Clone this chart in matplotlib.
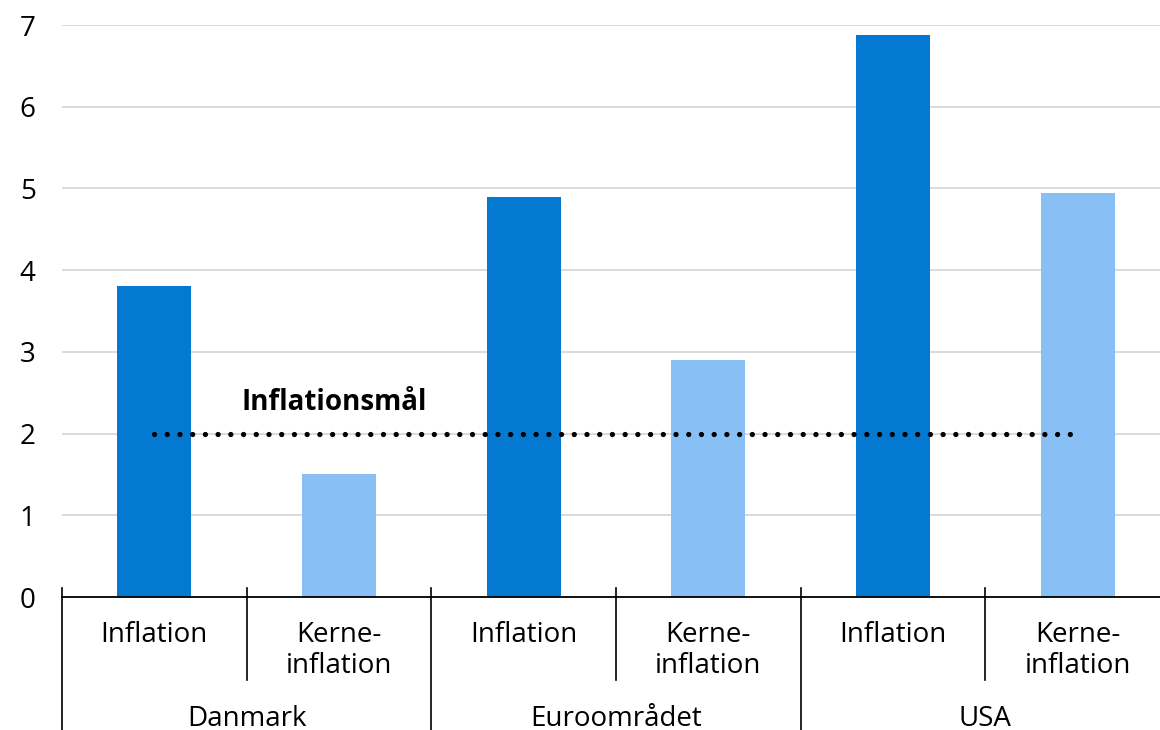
import matplotlib.pyplot as plt
import numpy as np

plt.rcParams['font.family'] = ['Open Sans', 'DejaVu Sans']

groups = ["Danmark", "Euroområdet", "USA"]
measures = ["Inflation", "Kerne-\ninflation"]
values = [3.8, 1.5, 4.9, 2.9, 6.88, 4.95]
target = 2
target_label = "Inflationsmål"

dark_blue = "#0379d1"
light_blue = "#88bff4"

fig = plt.figure(figsize=(11.6, 7.3), dpi=100)
ax = fig.add_axes([62/1160, 133/730, 1108/1160, 572/730])

x = np.arange(len(values))
colors = [dark_blue if i % 2 == 0 else light_blue for i in x]
ax.bar(x, values, width=0.4, color=colors, zorder=2)

# target line, dotted
ax.plot([0, 5], [target, target], color="black", lw=3.8,
        linestyle=(0, (0.01, 2.4)), dash_capstyle="round", zorder=3)
ax.text(0.47, 2.2, target_label, fontsize=20, fontweight="bold", ha="left", va="bottom")

ax.set_xlim(-0.5, 5.5)
ax.set_ylim(0, 7)
ax.set_yticks(range(0, 8))
ax.yaxis.grid(True, color="#d4d4d4", lw=1.2, zorder=0)
ax.set_axisbelow(True)
ax.tick_params(axis="y", length=0, labelsize=20, pad=19)
ax.set_xticks([])
for s in ["top", "right", "left"]:
    ax.spines[s].set_visible(False)
ax.spines["bottom"].set_linewidth(1.3)
ax.spines["bottom"].set_zorder(4)

trans = ax.get_xaxis_transform()
# measure labels
for i in x:
    ax.text(i, -0.042, measures[i % 2], transform=trans, ha="center", va="top",
            fontsize=20, linespacing=1.15)
# group labels
for g, name in enumerate(groups):
    ax.text(2 * g + 0.5, -0.214, name, transform=trans, ha="center", va="center", fontsize=20)

# separators
for i in range(7):
    xpos = i - 0.5
    bottom = -0.24 if i % 2 == 0 else -0.145
    ax.plot([xpos, xpos], [0.016, bottom], transform=trans, color="black",
            lw=1.2, clip_on=False)

fig.savefig("out.png", dpi=100)
